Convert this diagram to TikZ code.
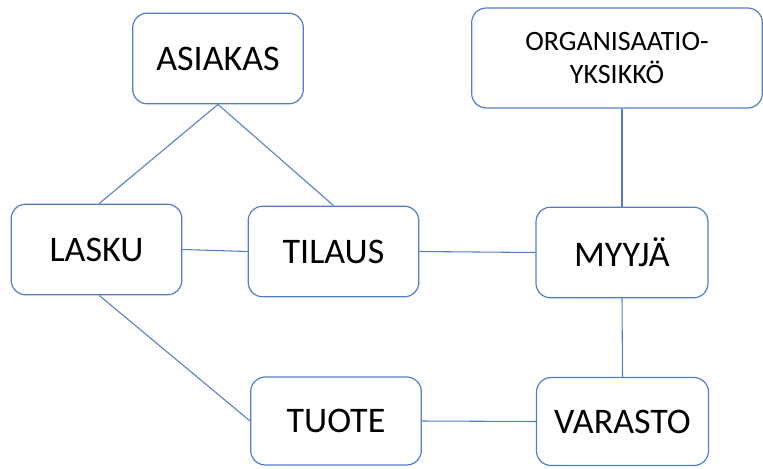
\documentclass[tikz,border=0pt]{standalone}
\usepackage{fontspec}
\setmainfont{Carlito}
\usepackage{xcolor}
\usetikzlibrary{positioning}
\definecolor{linkblue}{RGB}{84,124,200}
\tikzset{
  entity/.style={draw=linkblue, line width=0.9pt, rounded corners=11pt,
    minimum width=128pt, minimum height=68pt, align=center, inner sep=2pt,
    font=\fontsize{27}{30}\selectfont},
  link/.style={draw=linkblue, line width=0.8pt},
}

\begin{document}
\begin{tikzpicture}[x=0.75pt, y=-0.75pt]
    \useasboundingbox (0,0) rectangle (763,468);

    % Entidades
    \node[entity] (asiakas) at (218,58.5) {ASIAKAS};
    \node[entity, minimum width=218pt, minimum height=75pt,
          font=\fontsize{21}{25}\selectfont] (org) at (617,58) {ORGANISAATIO-\\YKSIKKÖ};
    \node[entity] (lasku) at (96.5,249.5) {LASKU};
    \node[entity] (tilaus) at (333.5,251.5) {TILAUS};
    \node[entity, minimum width=129pt] (myyja) at (622,252.5) {MYYJÄ};
    \node[entity, minimum height=66pt] (tuote) at (336,421) {TUOTE};
    \node[entity, minimum width=129pt, minimum height=66pt] (varasto) at (622.5,421.5) {VARASTO};

    % Relaciones
    \draw[link] (asiakas.south) -- ([xshift=2pt]lasku.north);
    \draw[link] (asiakas.south) -- (tilaus.north);
    \draw[link] (lasku.east) -- (tilaus.west);
    \draw[link] (tilaus.east) -- (myyja.west);
    \draw[link] (myyja.north) -- (myyja.north |- org.south);
    \draw[link] (myyja.south) -- (varasto.north);
    \draw[link] ([xshift=2pt]lasku.south) -- (tuote.west);
    \draw[link] (tuote.east) -- (varasto.west);
\end{tikzpicture}
\end{document}
